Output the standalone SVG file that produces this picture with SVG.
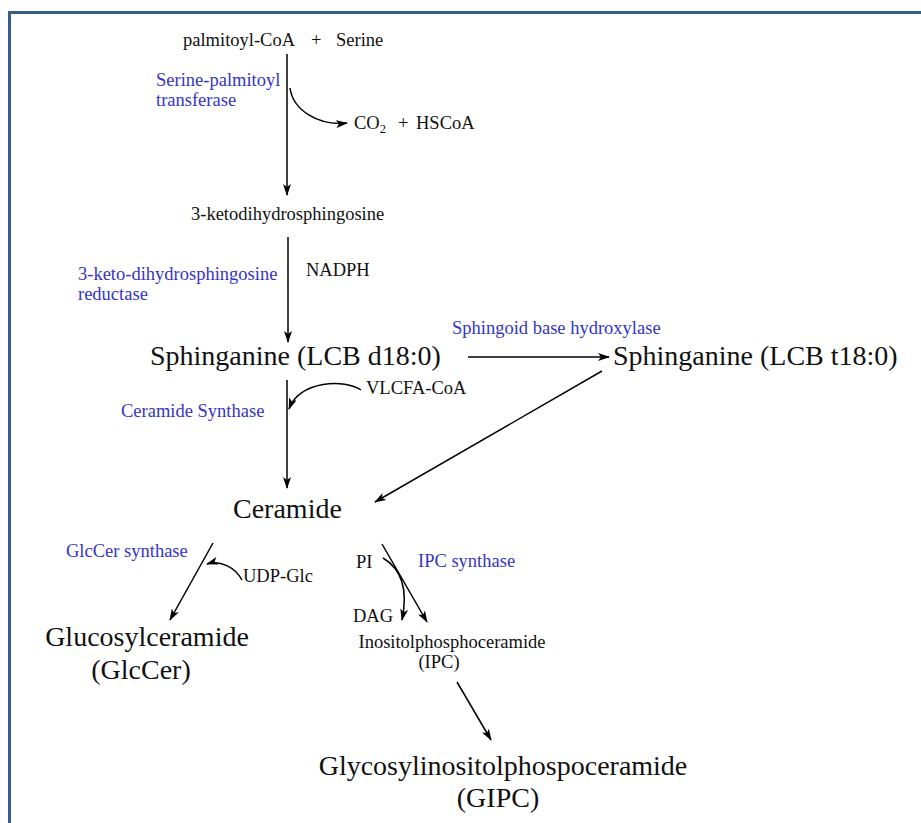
<svg xmlns="http://www.w3.org/2000/svg" width="921" height="823" viewBox="0 0 921 823">
  <style>
    .t { font-family: "Liberation Serif", "Times New Roman", serif; fill: #111; }
    .s { font-size: 18.5px; }
    .b { font-size: 28px; }
    .enz { font-family: "Liberation Serif", "Times New Roman", serif; font-size: 18.5px; fill: #3434c8; }
    .ln { fill: none; stroke: #000; stroke-width: 1.5; marker-end: url(#ah); }
  </style>
  <defs>
    <marker id="ah" viewBox="0 0 12 8" refX="11" refY="4" markerWidth="12" markerHeight="8" markerUnits="userSpaceOnUse" orient="auto">
      <path d="M0,0 L12,4 L0,8 L3,4 Z" fill="#000"/>
    </marker>
  </defs>

  <rect width="921" height="823" fill="#fff"/>
  <!-- frame -->
  <path d="M9.5,823 V12.5 H921" fill="none" stroke="#3a5e8c" stroke-width="3"/>

  <g id="substrates">
    <text class="t s" x="183" y="46">palmitoyl-CoA</text>
    <text class="t s" x="311" y="46">+</text>
    <text class="t s" x="336" y="46">Serine</text>
  </g>
  <g id="spt">
    <text class="enz" x="156" y="86">Serine-palmitoyl</text>
    <text class="enz" x="156" y="106">transferase</text>
  </g>
  <g id="byproducts">
    <text class="t s" x="354" y="128.5">CO<tspan font-size="12.5" dy="4">2</tspan><tspan dy="-4" x="398">+</tspan><tspan x="416">HSCoA</tspan></text>
  </g>
  <g id="ketodihydrosphingosine">
    <text class="t s" x="191" y="220">3-ketodihydrosphingosine</text>
  </g>
  <g id="kdsr">
    <text class="enz" x="78" y="280">3-keto-dihydrosphingosine</text>
    <text class="enz" x="78" y="300">reductase</text>
  </g>
  <g id="nadph">
    <text class="t s" x="306" y="276">NADPH</text>
  </g>
  <g id="sphinganine-d18">
    <text class="t b" x="150" y="365">Sphinganine (LCB d18:0)</text>
  </g>
  <g id="hydroxylase">
    <text class="enz" x="452" y="334">Sphingoid base hydroxylase</text>
  </g>
  <g id="sphinganine-t18">
    <text class="t b" x="613" y="365">Sphinganine (LCB t18:0)</text>
  </g>
  <g id="vlcfa">
    <text class="t s" x="366" y="394">VLCFA-CoA</text>
  </g>
  <g id="cers">
    <text class="enz" x="121" y="417">Ceramide Synthase</text>
  </g>
  <g id="ceramide">
    <text class="t b" x="233" y="518">Ceramide</text>
  </g>
  <g id="gcs">
    <text class="enz" x="66" y="557">GlcCer synthase</text>
  </g>
  <g id="udpglc">
    <text class="t s" x="243" y="582">UDP-Glc</text>
  </g>
  <g id="glccer">
    <text class="t b" x="147" y="646" text-anchor="middle">Glucosylceramide</text>
    <text class="t b" x="141" y="679" text-anchor="middle">(GlcCer)</text>
  </g>
  <g id="pi">
    <text class="t s" x="356" y="568">PI</text>
  </g>
  <g id="ipcs">
    <text class="enz" x="418" y="567">IPC synthase</text>
  </g>
  <g id="dag">
    <text class="t s" x="353" y="622">DAG</text>
  </g>
  <g id="ipc">
    <text class="t s" x="452" y="648" text-anchor="middle">Inositolphosphoceramide</text>
    <text class="t s" x="439" y="668" text-anchor="middle">(IPC)</text>
  </g>
  <g id="gipc">
    <text class="t b" x="503" y="775" text-anchor="middle">Glycosylinositolphospoceramide</text>
    <text class="t b" x="498" y="807" text-anchor="middle">(GIPC)</text>
  </g>

  <g id="connectors">
    <path class="ln" d="M287,54 V195"/>
    <path class="ln" d="M290,88 C293,110 318,126 347,123"/>
    <path class="ln" d="M288,237 V342"/>
    <path class="ln" d="M468,357 H609"/>
    <path class="ln" d="M361,390 C345,379 300,380 289,409"/>
    <path class="ln" d="M287,380 V488"/>
    <path class="ln" d="M602,371 L375,502"/>
    <path class="ln" d="M213,543 L170,620"/>
    <path class="ln" d="M242,580 C235,567 220,560 207,564"/>
    <path class="ln" d="M382,544 L427,622"/>
    <path class="ln" d="M383,558 C400,568 409,586 402,620"/>
    <path class="ln" d="M457,682 L491,740"/>
  </g>
</svg>
